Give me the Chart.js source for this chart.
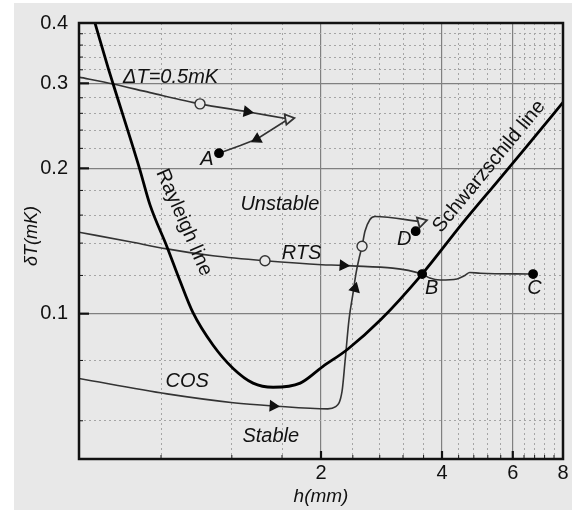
<!DOCTYPE html>
<html>
<head>
<meta charset="utf-8">
<script src="https://cdn.jsdelivr.net/npm/chart.js@4.4.0/dist/chart.umd.min.js"></script>
<style>
  html, body { margin: 0; padding: 0; background: #fff; }
  #wrap {
    position: relative; width: 572px; height: 510px;
    background: linear-gradient(#fff 0 3px, transparent 3px),
                linear-gradient(90deg, #fff 0 14px, #e8e8e8 14px);
  }
  canvas { display: block; }
</style>
</head>
<body>
<div id="wrap"><canvas id="chart" width="572" height="510"></canvas></div>
<script>
// axis ticks
const xTicks = [2, 4, 6, 8];
const yTicks = [0.1, 0.2, 0.3, 0.4];
const xMinor = [0.8, 1.2, 1.6, 2.4, 2.8, 3.2, 3.6, 4.4, 4.8, 5.2, 5.6, 6.4, 6.8, 7.2, 7.6];
const yMinor = [0.06, 0.08, 0.12, 0.14, 0.16, 0.18, 0.22, 0.24, 0.26, 0.28, 0.32, 0.34, 0.36, 0.38];

// Rayleigh + Schwarzschild line
const curveH = [0.548, 0.590, 0.608, 0.707, 0.751, 0.828, 0.89, 0.96, 1.077, 1.209, 1.355, 1.52, 1.776, 2.02, 2.33, 2.81, 3.57, 4.5, 5.5, 6.5, 8.0];
const curveT = [0.400, 0.324, 0.299, 0.200, 0.168, 0.1375, 0.1174, 0.1006, 0.0861, 0.0770, 0.0718, 0.0704, 0.0718, 0.0777, 0.0844, 0.0970, 0.1208, 0.154, 0.188, 0.222, 0.274];

// dT = 0.5mK run (out and back to A)
const dtH = [0.5, 0.608, 0.751, 1.0, 1.31, 1.66];
const dtT = [0.309, 0.299, 0.287, 0.272, 0.262, 0.253];
const backH = [1.66, 1.386, 1.26, 1.115];
const backT = [0.253, 0.230, 0.223, 0.215];

// RTS run
const rtsH = [0.5, 0.670, 0.828, 1.077, 1.451, 2.01, 2.27, 3.57, 3.73, 3.96, 4.36, 4.56, 4.69, 4.98, 6.74];
const rtsT = [0.1475, 0.1409, 0.1362, 0.1318, 0.1287, 0.1263, 0.1259, 0.1208, 0.1185, 0.1174, 0.1180, 0.1200, 0.1217, 0.1213, 0.1208];

// COS run
const cosH = [0.5, 0.828, 1.209, 1.52, 2.08, 2.17, 2.256, 2.295, 2.348, 2.403, 2.444, 2.486, 2.53, 2.573, 2.648, 2.725, 3.55];
const cosT = [0.0734, 0.0682, 0.0654, 0.0644, 0.0635, 0.0641, 0.0690, 0.0795, 0.0972, 0.1103, 0.1212, 0.1299, 0.1379, 0.1481, 0.1567, 0.1589, 0.155];

// markers
const circleH = [1.0, 1.451, 2.53];
const circleT = [0.272, 0.1287, 0.1379];
const dotH = [1.115, 3.57, 6.74, 3.44];   // A, B, C, D
const dotT = [0.215, 0.1208, 0.1208, 0.1482];
const arrowH = [1.31, 1.386, 2.27, 1.52, 2.43];
const arrowT = [0.262, 0.230, 0.1259, 0.0644, 0.1128];
const endH = [1.66, 3.55];
const endT = [0.253, 0.155];

const FONT = "'Liberation Sans', Arial, Helvetica, sans-serif";
const INK = '#111';
const LINE = '#333';
const BG = '#e8e8e8';

Chart.defaults.font.family = FONT;

const pts = (hs, ts) => hs.map((h, i) => ({ x: h, y: ts[i] }));

// text written on the plot, placed in data coordinates
const notes = [
    { text: '\u0394T=0.5mK', h: 0.845, t: 0.309, angle: 0, italic: true },
    { text: 'A', h: 1.04, t: 0.2086, angle: 0, italic: true },
    { text: 'Rayleigh line', h: 0.912, t: 0.1545, angle: 66.5, italic: false },
    { text: 'Unstable', h: 1.58, t: 0.168, angle: 0, italic: true },
    { text: 'RTS', h: 1.79, t: 0.133, angle: 0, italic: true },
    { text: 'B', h: 3.77, t: 0.1128, angle: 0, italic: true },
    { text: 'C', h: 6.79, t: 0.1128, angle: 0, italic: true },
    { text: 'D', h: 3.22, t: 0.1422, angle: 0, italic: true },
    { text: 'Schwarzschild line', h: 5.24, t: 0.2018, angle: -50.5, italic: false },
    { text: 'COS', h: 0.929, t: 0.0723, angle: 0, italic: true },
    { text: 'Stable', h: 1.5, t: 0.0557, angle: 0, italic: true }
];

const notesPlugin = {
    id: 'notes',
    afterDatasetsDraw(chart) {
        const { ctx, chartArea: a, scales: { x, y } } = chart;
        ctx.save();
        ctx.fillStyle = INK;
        ctx.textAlign = 'center';
        ctx.textBaseline = 'middle';
        notes.forEach(n => {
            ctx.save();
            ctx.translate(x.getPixelForValue(n.h), y.getPixelForValue(n.t));
            ctx.rotate(n.angle * Math.PI / 180);
            ctx.font = (n.italic ? 'italic ' : '') + '20px ' + FONT;
            ctx.fillText(n.text, 0, 0);
            ctx.restore();
        });
        // y axis title
        ctx.translate(a.left - 47, (a.top + a.bottom) / 2 - 5);
        ctx.rotate(-Math.PI / 2);
        ctx.font = 'italic 18px ' + FONT;
        ctx.fillText('\u03B4T(mK)', 0, 0);
        ctx.restore();
    }
};

// box round the plot and the inward tick marks
const framePlugin = {
    id: 'frame',
    afterDatasetsDraw(chart) {
        const { ctx, chartArea: a, scales: { x, y } } = chart;
        const seg = (x1, y1, x2, y2) => {
            ctx.beginPath(); ctx.moveTo(x1, y1); ctx.lineTo(x2, y2); ctx.stroke();
        };
        ctx.save();
        ctx.strokeStyle = '#111';
        ctx.lineWidth = 1;
        xMinor.forEach(v => { const p = x.getPixelForValue(v); seg(p, a.bottom, p, a.bottom - 4); });
        yMinor.forEach(v => { const p = y.getPixelForValue(v); seg(a.left, p, a.left + 4, p); });
        ctx.lineWidth = 2.2;
        xTicks.slice(0, -1).forEach(v => { const p = x.getPixelForValue(v); seg(p, a.bottom, p, a.bottom - 8); });
        yTicks.slice(0, -1).forEach(v => { const p = y.getPixelForValue(v); seg(a.left, p, a.left + 10, p); });
        ctx.lineWidth = 2.5;
        ctx.strokeRect(a.left, a.top, a.right - a.left, a.bottom - a.top);
        ctx.restore();
    }
};

const lineSet = (data, extra) => Object.assign({
    data: data,
    borderColor: LINE,
    borderWidth: 1.6,
    pointRadius: 0,
    fill: false,
    order: 2
}, extra);

const markSet = (data, extra) => Object.assign({
    data: data,
    showLine: false,
    borderColor: LINE,
    borderWidth: 1.4,
    order: 0
}, extra);

new Chart(document.getElementById('chart'), {
    type: 'line',
    data: {
        datasets: [
            lineSet(pts(curveH, curveT), { borderColor: '#000', borderWidth: 2.8, cubicInterpolationMode: 'monotone', order: 1 }),
            lineSet(pts(dtH, dtT), { tension: 0.3 }),
            lineSet(pts(backH, backT), { tension: 0 }),
            lineSet(pts(rtsH, rtsT), { cubicInterpolationMode: 'monotone' }),
            lineSet(pts(cosH, cosT), { cubicInterpolationMode: 'monotone' }),
            markSet(pts(circleH, circleT), { pointStyle: 'circle', pointRadius: 5, backgroundColor: BG }),
            markSet(pts(dotH, dotT), { pointStyle: 'circle', pointRadius: 4.2, backgroundColor: '#000', borderColor: '#000' }),
            markSet(pts(arrowH, arrowT), { pointStyle: 'triangle', pointRadius: 5.5, backgroundColor: '#111', borderColor: '#111',
                rotation: [99, 242, 94, 94, 15] }),
            markSet(pts(endH, endT), { pointStyle: 'triangle', pointRadius: 6, backgroundColor: BG, borderWidth: 1.8,
                rotation: [200, 195] })
        ]
    },
    options: {
        responsive: false,
        animation: false,
        layout: { padding: { left: 0, right: 9, top: 15, bottom: 0 } },
        plugins: { legend: { display: false }, tooltip: { enabled: false } },
        events: [],
        scales: {
            x: {
                type: 'logarithmic', position: 'bottom', min: 0.5, max: 8, bounds: 'data',
                afterBuildTicks: s => { s.ticks = xTicks.map(v => ({ value: v })); },
                afterFit: s => { s.height = 51; },
                ticks: { callback: v => String(v), color: INK, font: { size: 20 }, padding: 2, maxRotation: 0, autoSkip: false },
                grid: { color: c => (c.tick && c.tick.value < 8) ? '#808080' : 'rgba(0,0,0,0)', lineWidth: 1.2, drawTicks: false },
                border: { display: false },
                title: { display: true, text: 'h(mm)', color: INK, font: { size: 19, style: 'italic' }, padding: { top: 0, bottom: 2 } }
            },
            xMinor: {
                type: 'logarithmic', position: 'bottom', min: 0.5, max: 8, bounds: 'data',
                afterBuildTicks: s => { s.ticks = xMinor.map(v => ({ value: v })); },
                afterFit: s => { s.height = 0; },
                ticks: { display: false },
                grid: { color: '#a5a5a5', lineWidth: 1, drawTicks: false },
                border: { display: false, dash: [2, 3] }
            },
            y: {
                type: 'logarithmic', position: 'left', min: 0.05, max: 0.4, bounds: 'data',
                afterBuildTicks: s => { s.ticks = yTicks.map(v => ({ value: v })); },
                afterFit: s => { s.width = 79; },
                ticks: { callback: v => v.toFixed(1), color: INK, font: { size: 20 }, padding: 11, autoSkip: false },
                grid: { color: c => (c.tick && c.tick.value < 0.4) ? '#808080' : 'rgba(0,0,0,0)', lineWidth: 1.2, drawTicks: false },
                border: { display: false }
            },
            yMinor: {
                type: 'logarithmic', position: 'left', min: 0.05, max: 0.4, bounds: 'data',
                afterBuildTicks: s => { s.ticks = yMinor.map(v => ({ value: v })); },
                afterFit: s => { s.width = 0; },
                ticks: { display: false },
                grid: { color: '#a5a5a5', lineWidth: 1, drawTicks: false },
                border: { display: false, dash: [2, 3] }
            }
        }
    },
    plugins: [notesPlugin, framePlugin]
});
</script>
</body>
</html>
